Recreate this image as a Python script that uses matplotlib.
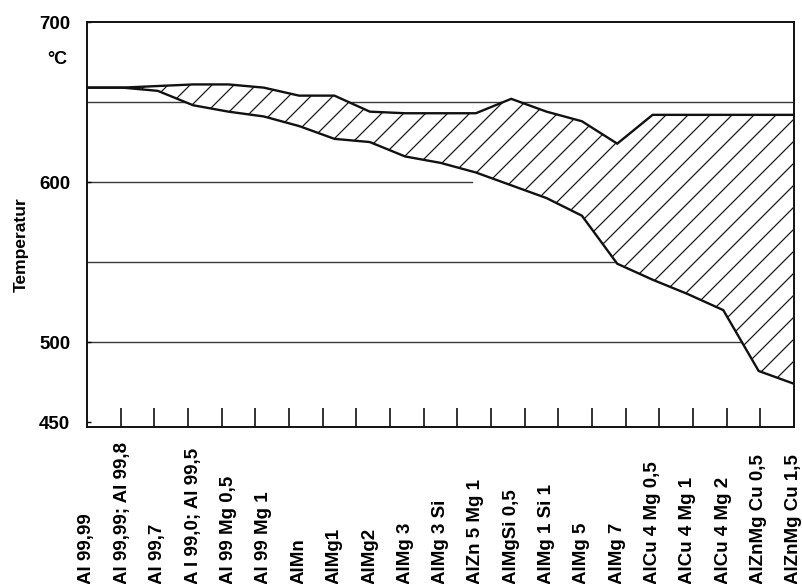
import numpy as np
import matplotlib
matplotlib.use("Agg")
import matplotlib.pyplot as plt
from matplotlib.collections import LineCollection
from matplotlib.transforms import blended_transform_factory

# Aluminium alloys along the x axis
alloys = [
    "Al 99,99", "Al 99,99; Al 99,8", "Al 99,7", "A l 99,0; Al 99,5",
    "Al 99 Mg 0,5", "Al 99 Mg 1", "AlMn", "AlMg1", "AlMg2", "AlMg 3",
    "AlMg 3 Si", "AlZn 5 Mg 1", "AlMgSi 0,5", "AlMg 1 Si 1", "AlMg 5",
    "AlMg 7", "AlCu 4 Mg 0,5", "AlCu 4 Mg 1", "AlCu 4 Mg 2",
    "AlZnMg Cu 0,5", "AlZnMg Cu 1,5",
]
# Upper (liquidus) and lower (solidus) temperatures in °C
liquidus = [659, 659, 660, 661, 661, 659, 654, 654, 644, 643, 643, 643,
            652, 644, 638, 624, 642, 642, 642, 642, 642]
solidus = [659, 659, 657, 648, 644, 641, 635, 627, 625, 616, 612, 606,
           598, 590, 579, 549, 539, 530, 520, 482, 474]

y_ticks = [450, 500, 600, 700]
grid_levels = [500, 550, 600, 650]
grid_ends = [20, 20, 10.9, 20]

FONT = "Liberation Sans"
W, H = 802, 584
fig = plt.figure(figsize=(W / 100, H / 100), dpi=100)
ax_l, ax_b, ax_w, ax_h = 87, 157, 707, 405
ax = fig.add_axes([ax_l / W, ax_b / H, ax_w / W, ax_h / H])

x = np.arange(len(alloys))
ax.set_xlim(0, len(alloys) - 1)
ax.set_ylim(447, 700)

# reference lines, partly covered by the melting range band
for lvl, end in zip(grid_levels, grid_ends):
    ax.plot([0, end], [lvl, lvl], color="#3a3a3a", lw=1.0, zorder=1)

# melting range band (white fill hides the lines behind it)
band = ax.fill_between(x, solidus, liquidus, facecolor="white",
                       edgecolor="none", zorder=2)

# diagonal hatching at 45 degrees in screen space, clipped to the band
step = 22.0
segs = []
for c in np.arange(-ax_w, ax_h + step, step):
    p0 = (0.0, c / ax_h)
    p1 = (1.0, (c + ax_w) / ax_h)
    segs.append([p0, p1])
hatch = LineCollection(segs, colors="#1a1a1a", linewidths=0.9,
                       transform=ax.transAxes, zorder=3)
hatch.set_clip_path(band.get_paths()[0], ax.transData)
ax.add_collection(hatch)

ax.plot(x, liquidus, color="#111111", lw=1.7, zorder=4,
        solid_joinstyle="miter")
ax.plot(x, solidus, color="#111111", lw=1.7, zorder=4,
        solid_joinstyle="miter")

for sp in ax.spines.values():
    sp.set_linewidth(1.4)
    sp.set_color("#111111")

# y axis
ax.set_yticks(y_ticks)
ax.set_yticklabels([str(v) for v in y_ticks], fontsize=13.5,
                   fontweight="bold", family=FONT)
ax.tick_params(axis="y", direction="in", length=3, width=1, pad=12)

# x axis: short inward ticks, labels drawn vertically from the bottom edge
n = len(alloys)
ax.set_xticks(x)
ax.set_xticklabels([])
ax.tick_params(axis="x", which="major", length=0)
ax.set_xticks(np.arange(1, n) * (n - 1) / n, minor=True)
ax.tick_params(axis="x", which="minor", direction="in", length=14,
               width=1.2, color="#111111")

tr = blended_transform_factory(ax.transData, fig.transFigure)
for xi, name in zip(x, alloys):
    ax.text(xi, 0.0, name, transform=tr, rotation=90, ha="center",
            va="bottom", fontsize=13.5, fontweight="bold", family=FONT,
            clip_on=False)

fig.text(57 / W, 1 - 59 / H, "°C", ha="center", va="center",
         fontsize=13, fontweight="bold", family=FONT)
fig.text(21 / W, 1 - 245 / H, "Temperatur", rotation=90, ha="center",
         va="center", fontsize=12.5, fontweight="bold", family=FONT)

fig.savefig("out.png", dpi=100)
